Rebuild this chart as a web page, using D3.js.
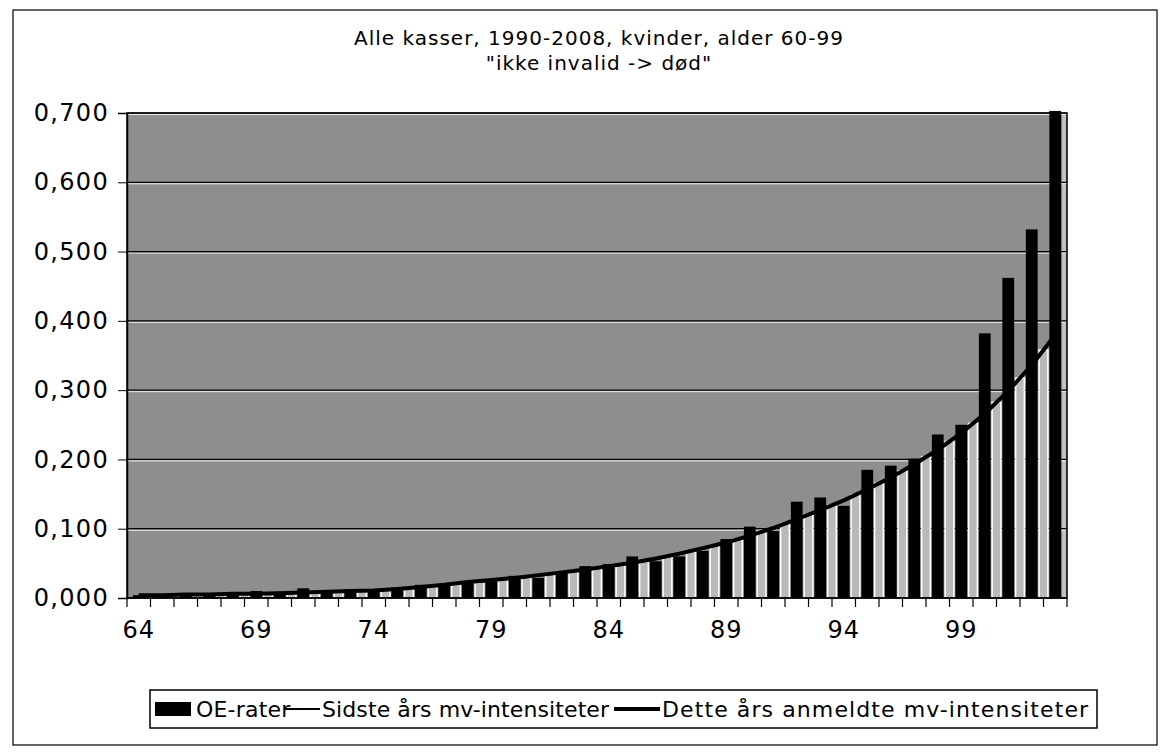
<!DOCTYPE html>
<html>
<head>
<meta charset="utf-8">
<script src="https://cdn.jsdelivr.net/npm/d3@7"></script>
<style>
  body { margin: 0; background: #fff; }
  svg text { font-family: "DejaVu Sans", Verdana, sans-serif; fill: #000; }
</style>
</head>
<body>
<svg id="chart" width="1163" height="756"></svg>
<script>
// Ages on the x axis
var ages = d3.range(64, 104);
// Tick labels shown under the axis
var xLabels = [64, 69, 74, 79, 84, 89, 94, 99];
var yTicks = [0, 0.1, 0.2, 0.3, 0.4, 0.5, 0.6, 0.7];

// OE-rater (bars)
var oeRater = [0.004, 0.004, 0.004, 0.006, 0.006, 0.010, 0.009, 0.014, 0.008, 0.012,
               0.012, 0.015, 0.019, 0.020, 0.021, 0.024, 0.032, 0.029, 0.038, 0.046,
               0.049, 0.060, 0.053, 0.060, 0.068, 0.085, 0.103, 0.097, 0.139, 0.145,
               0.133, 0.185, 0.191, 0.201, 0.236, 0.250, 0.382, 0.462, 0.532, 0.703];
// Sidste års mv-intensiteter (thin line)
var sidsteAar = [0.004, 0.004, 0.005, 0.005, 0.006, 0.006, 0.007, 0.008, 0.009, 0.010,
                 0.011, 0.013, 0.016, 0.019, 0.022, 0.025, 0.028, 0.032, 0.036, 0.040,
                 0.045, 0.050, 0.056, 0.063, 0.071, 0.079, 0.089, 0.100, 0.113, 0.126,
                 0.140, 0.156, 0.173, 0.192, 0.213, 0.237, 0.265, 0.298, 0.335, 0.378];
// Dette års anmeldte mv-intensiteter (thick line)
var detteAar = [0.004, 0.004, 0.005, 0.005, 0.006, 0.006, 0.007, 0.008, 0.009, 0.010,
                0.011, 0.013, 0.016, 0.019, 0.023, 0.026, 0.029, 0.033, 0.037, 0.041,
                0.046, 0.051, 0.057, 0.064, 0.072, 0.080, 0.090, 0.101, 0.114, 0.127,
                0.141, 0.157, 0.174, 0.193, 0.214, 0.238, 0.266, 0.299, 0.336, 0.380];

var svg = d3.select('#chart');

var plot = { left: 127, right: 1067, top: 113, bottom: 598 };

var x = d3.scaleBand()
  .domain(ages)
  .range([plot.left, plot.right])
  .paddingInner(0.5)
  .paddingOuter(0.25);

var y = d3.scaleLinear()
  .domain([0, 0.7])
  .range([plot.bottom, plot.top]);

var step = x.step();
var gapW = step - x.bandwidth();
var fmt = function (v) { return d3.format('.3f')(v).replace('.', ','); };

// Outer frame
svg.append('rect')
  .attr('x', 13).attr('y', 10)
  .attr('width', 1144).attr('height', 735)
  .attr('fill', 'none')
  .attr('stroke', '#000')
  .attr('stroke-width', 1.2);

// Title
svg.append('text')
  .attr('x', 599).attr('y', 45)
  .attr('text-anchor', 'middle')
  .style('font-size', '20px')
  .style('letter-spacing', '1px')
  .text('Alle kasser, 1990-2008, kvinder, alder 60-99');
svg.append('text')
  .attr('x', 599).attr('y', 70)
  .attr('text-anchor', 'middle')
  .style('font-size', '20px')
  .style('letter-spacing', '1px')
  .text('"ikke invalid -> død"');

// Plot background
svg.append('rect')
  .attr('x', plot.left).attr('y', plot.top)
  .attr('width', plot.right - plot.left)
  .attr('height', plot.bottom - plot.top)
  .attr('fill', '#8e8e8e');

// light strip at the right edge
svg.append('rect')
  .attr('x', x(103) + x.bandwidth() + 1).attr('y', plot.top)
  .attr('width', plot.right - x(103) - x.bandwidth() - 2)
  .attr('height', plot.bottom - plot.top)
  .attr('fill', '#c2c2c2');

// Gridlines (black with a white line under)
var grid = svg.append('g');
grid.selectAll('.gw')
  .data(yTicks.slice(1))
  .enter().append('line')
  .attr('x1', plot.left).attr('x2', plot.right)
  .attr('y1', function (d) { return y(d) + 1.5; })
  .attr('y2', function (d) { return y(d) + 1.5; })
  .attr('stroke', '#eee').attr('stroke-width', 1);
grid.selectAll('.gb')
  .data(yTicks.slice(1))
  .enter().append('line')
  .attr('x1', plot.left).attr('x2', plot.right)
  .attr('y1', function (d) { return y(d); })
  .attr('y2', function (d) { return y(d); })
  .attr('stroke', '#000').attr('stroke-width', 1.2);

// Light gaps under the curve (between bars)
var gaps = d3.range(1, ages.length).map(function (i) {
  return { x: x(ages[i]) - gapW, v: (detteAar[i - 1] + detteAar[i]) / 2 };
});
svg.append('g').selectAll('rect')
  .data(gaps)
  .enter().append('rect')
  .attr('x', function (d) { return d.x + 1.5; })
  .attr('y', function (d) { return y(d.v); })
  .attr('width', gapW - 3)
  .attr('height', function (d) { return plot.bottom - y(d.v); })
  .attr('fill', '#b9b9b9')
  .attr('stroke', '#fff')
  .attr('stroke-width', 1.5);

// Bars
svg.append('g').selectAll('rect')
  .data(ages)
  .enter().append('rect')
  .attr('x', function (d) { return x(d); })
  .attr('y', function (d, i) { return y(oeRater[i]); })
  .attr('width', x.bandwidth())
  .attr('height', function (d, i) { return plot.bottom - y(oeRater[i]); })
  .attr('fill', '#000');

// Lines
var line = d3.line()
  .x(function (d, i) { return x(ages[i]) + x.bandwidth() / 2; })
  .y(function (d) { return y(d); });

svg.append('path')
  .datum(sidsteAar)
  .attr('d', line)
  .attr('fill', 'none')
  .attr('stroke', '#000')
  .attr('stroke-width', 2);

svg.append('path')
  .datum(detteAar)
  .attr('d', line)
  .attr('fill', 'none')
  .attr('stroke', '#000')
  .attr('stroke-width', 4);

// Plot border
svg.append('rect')
  .attr('x', plot.left).attr('y', plot.top)
  .attr('width', plot.right - plot.left)
  .attr('height', plot.bottom - plot.top)
  .attr('fill', 'none')
  .attr('stroke', '#000')
  .attr('stroke-width', 1.5);

// Y axis
var yAxis = svg.append('g')
  .attr('transform', 'translate(' + plot.left + ',0)')
  .call(d3.axisLeft(y).tickValues(yTicks).tickSize(9).tickPadding(9).tickFormat(fmt));
yAxis.select('.domain').attr('stroke-width', 1.5);
yAxis.selectAll('text')
  .style('font-size', '24px')
  .style('letter-spacing', '1.3px')
  .style('font-family', '"DejaVu Sans", Verdana, sans-serif');

// X axis: ticks on category boundaries, labels every 5 years
var xAxisG = svg.append('g');
xAxisG.append('line')
  .attr('x1', plot.left).attr('x2', plot.right)
  .attr('y1', plot.bottom).attr('y2', plot.bottom)
  .attr('stroke', '#000').attr('stroke-width', 1.5);
xAxisG.selectAll('.tk')
  .data(ages.concat([104]))
  .enter().append('line')
  .attr('x1', function (d) { return x(d) !== undefined ? x(d) - gapW / 2 : x(103) + step - gapW / 2; })
  .attr('x2', function (d) { return x(d) !== undefined ? x(d) - gapW / 2 : x(103) + step - gapW / 2; })
  .attr('y1', plot.bottom)
  .attr('y2', plot.bottom + 9)
  .attr('stroke', '#000').attr('stroke-width', 1.2);
xAxisG.selectAll('text')
  .data(xLabels)
  .enter().append('text')
  .attr('x', function (d) { return x(d) + x.bandwidth() / 2; })
  .attr('y', 638)
  .attr('text-anchor', 'middle')
  .style('font-size', '24px')
  .style('letter-spacing', '1px')
  .text(function (d) { return d; });

// Legend
var legend = svg.append('g');
legend.append('rect')
  .attr('x', 150).attr('y', 690)
  .attr('width', 947).attr('height', 38)
  .attr('fill', '#fff')
  .attr('stroke', '#000')
  .attr('stroke-width', 1.5);
legend.append('rect')
  .attr('x', 155).attr('y', 702)
  .attr('width', 36).attr('height', 14)
  .attr('fill', '#000');
legend.append('text').attr('x', 196).attr('y', 717)
  .style('font-size', '22px').style('letter-spacing', '0.2px').text('OE-rater');
legend.append('line')
  .attr('x1', 285).attr('x2', 320).attr('y1', 709).attr('y2', 709)
  .attr('stroke', '#000').attr('stroke-width', 2);
legend.append('text').attr('x', 322).attr('y', 717)
  .style('font-size', '22px').style('letter-spacing', '0.1px').text('Sidste års mv-intensiteter');
legend.append('line')
  .attr('x1', 614).attr('x2', 660).attr('y1', 709).attr('y2', 709)
  .attr('stroke', '#000').attr('stroke-width', 4);
legend.append('text').attr('x', 662).attr('y', 717)
  .style('font-size', '22px').style('letter-spacing', '1.1px').text('Dette års anmeldte mv-intensiteter');
</script>
</body>
</html>
